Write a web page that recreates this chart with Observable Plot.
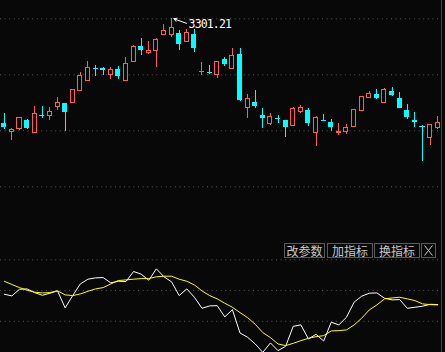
<!DOCTYPE html>
<html><head><meta charset="utf-8">
<script src="https://cdn.jsdelivr.net/npm/d3@7"></script>
<script src="https://cdn.jsdelivr.net/npm/@observablehq/plot@0.6"></script>
<style>
html,body{margin:0;padding:0;background:#080808;overflow:hidden}
#wrap{position:relative;width:445px;height:352px;background:#080808;overflow:hidden}
#top{position:absolute;left:0;top:0}
#bot{position:absolute;left:0;top:240px}
.btn{position:absolute;top:243px;height:13px;border:1px solid #5a5a5a;color:#c8c8c8;font-family:"Noto Sans CJK SC";font-size:12px;line-height:13px;text-align:center;background:#080808;white-space:nowrap}
#top text{letter-spacing:-0.85px}
</style></head><body>
<div id="wrap"><div id="top"></div><div id="bot"></div></div>
<script>
// ---- data ----
const open = [
 3091.8, 3075.2, 3080.4, 3098.4, 3073.8, 3107.8, 3107.2, 3125.2, 3131.2, 3133.2,
 3157.2, 3177.2, 3202.0, 3201.8, 3189.2, 3199.2, 3177.2, 3215.2, 3245.2, 3233.2,
 3237.2, 3269.2, 3269.2, 3271.2, 3255.2, 3269.2, 3194.6, 3194.0, 3189.2, 3219.2,
 3201.2, 3229.2, 3123.2, 3133.2, 3107.2, 3091.2, 3102.0, 3097.2, 3087.2, 3115.2,
 3117.2, 3073.2, 3098.0, 3093.2, 3073.2, 3075.2, 3085.2, 3117.2, 3143.2, 3149.2,
 3133.2, 3155.2, 3141.2, 3117.2, 3098.8, 3085.2, 3063.2, 3083.2];
const close = [
 3084.4, 3079.8, 3103.2, 3081.8, 3111.2, 3105.8, 3115.2, 3133.2, 3113.2, 3159.2,
 3187.2, 3203.2, 3200.0, 3198.4, 3199.2, 3185.2, 3211.2, 3245.2, 3238.4, 3237.2,
 3259.2, 3277.2, 3283.2, 3249.2, 3273.2, 3241.2, 3195.8, 3192.0, 3215.2, 3209.2,
 3227.2, 3138.4, 3141.2, 3125.2, 3101.2, 3105.2, 3100.0, 3083.2, 3121.2, 3123.2,
 3091.2, 3103.2, 3096.0, 3083.2, 3075.2, 3083.2, 3119.2, 3145.2, 3151.2, 3141.2,
 3159.2, 3148.2, 3121.2, 3103.2, 3094.8, 3083.2, 3089.2, 3093.2];
const high = [
 3111.2, 3081.2, 3103.2, 3100.4, 3125.8, 3125.8, 3123.2, 3143.2, 3131.2, 3159.2,
 3193.2, 3215.8, 3207.2, 3203.8, 3203.2, 3205.2, 3223.2, 3247.2, 3261.2, 3255.2,
 3261.8, 3289.2, 3301.21, 3277.2, 3279.2, 3279.2, 3213.2, 3207.2, 3215.2, 3223.2,
 3241.2, 3241.2, 3149.2, 3157.2, 3121.2, 3111.2, 3107.2, 3097.2, 3123.2, 3127.2,
 3121.2, 3105.2, 3109.2, 3099.2, 3091.2, 3089.2, 3119.2, 3145.2, 3155.2, 3159.2,
 3161.2, 3163.2, 3153.2, 3129.2, 3113.2, 3087.2, 3089.2, 3105.2];
const low = [
 3079.8, 3058.4, 3077.2, 3079.2, 3071.8, 3102.4, 3098.4, 3118.4, 3076.4, 3133.2,
 3155.2, 3177.2, 3186.8, 3187.2, 3179.2, 3179.2, 3177.2, 3215.2, 3227.2, 3229.2,
 3203.2, 3268.4, 3263.2, 3237.2, 3255.2, 3233.2, 3187.2, 3189.2, 3181.2, 3205.2,
 3201.2, 3136.4, 3101.2, 3121.2, 3081.2, 3087.2, 3091.2, 3063.2, 3087.2, 3111.2,
 3085.2, 3045.2, 3095.2, 3075.2, 3067.2, 3069.2, 3085.2, 3115.2, 3141.2, 3139.2,
 3133.2, 3145.2, 3121.2, 3099.2, 3083.2, 3016.8, 3048.8, 3079.2];
const whiteLine = [
 46.4, 44.8, 51.3, 51.6, 48.0, 45.4, 47.4, 49.7, 33.1, 45.1,
 56.5, 61.1, 62.4, 62.7, 57.5, 59.1, 58.8, 68.6, 66.0, 60.1,
 71.2, 63.4, 58.5, 45.1, 51.6, 43.5, 32.7, 35.0, 35.3, 24.3,
 31.4, 8.6, 4.4, -2.1, -10.3, -1.1, -8.6, -4.4, 15.1, 16.5,
 2.8, 7.3, 0.8, 19.1, 16.5, 23.9, 38.6, 44.5, 47.4, 47.7,
 42.5, 40.9, 41.2, 32.7, 33.7, 34.7, 36.6, 36.3];
const yellowLine = [
 59.1, 55.9, 52.9, 50.3, 48.4, 47.7, 48.0, 49.7, 45.8, 45.1,
 46.7, 49.3, 51.6, 52.9, 56.5, 59.8, 60.4, 61.1, 61.7, 61.7,
 63.4, 64.0, 64.0, 61.1, 59.1, 55.5, 49.7, 45.1, 41.9, 37.6,
 33.7, 28.5, 23.6, 17.1, 9.0, 4.1, -2.1, -3.7, -1.5, 1.1,
 3.4, 5.0, 6.0, 10.6, 10.9, 11.6, 16.4, 23.0, 31.1, 36.0,
 41.9, 42.8, 43.5, 41.9, 40.2, 37.0, 36.3, 36.0];
const priceGrid = [3301.21, 3189.21, 3077.21, 2965.21];
const oscGrid = [80, 50, 20];
const buttonLabels = ["改参数", "加指标", "换指标"];

// ---- chart ----
const RED = "#ff5b5b", CYAN = "#00ffff", BG = "#080808", GRID = "#5a5a5a";
const n = open.length;
const candles = open.map((o, i) => ({i, open: o, close: close[i], high: high[i], low: low[i], up: close[i] >= o}));
const ups = candles.filter(d => d.up), downs = candles.filter(d => !d.up);
const xDomain = [-0.5, n - 0.5];
const hiVal = d3.max(high), hiIdx = high.indexOf(hiVal);

const topChart = Plot.plot({
  width: 445, height: 240,
  marginTop: 0, marginBottom: 0, marginLeft: 0, marginRight: 4,
  x: {domain: xDomain, axis: null},
  y: {domain: [2857.8, 3337.8], axis: null},
  style: {background: BG},
  marks: [
    Plot.ruleY(priceGrid, {stroke: GRID, strokeDasharray: "1,3.6"}),
    Plot.ruleX(downs, {x: "i", y1: "low", y2: "high", stroke: CYAN, shapeRendering: "crispEdges"}),
    Plot.ruleX(ups, {x: "i", y1: "low", y2: "high", stroke: RED, shapeRendering: "crispEdges"}),
    Plot.rect(downs, {x1: d => d.i - 0.33, x2: d => d.i + 0.33, y1: "open", y2: "close", fill: CYAN, shapeRendering: "crispEdges"}),
    Plot.rect(ups, {x1: d => d.i - 0.265, x2: d => d.i + 0.265, y1: "open", y2: "close", fill: BG, stroke: RED, shapeRendering: "crispEdges"}),
    Plot.ruleX([xDomain[1]], {stroke: "#444"}),
    Plot.arrow([hiVal], {x1: hiIdx + 1.95, y1: d => d - 9, x2: hiIdx + 0.3, y2: d => d, stroke: "#fff", strokeWidth: 1, headLength: 5}),
    Plot.text([hiVal], {x: hiIdx, y: d => d, text: d => d.toFixed(2), dx: 17, dy: 5.7, textAnchor: "start", fill: "#fff", fontSize: 11.5, fontFamily: "DejaVu Sans Mono"})
  ]
});
document.getElementById("top").appendChild(topChart);

const botChart = Plot.plot({
  width: 445, height: 112,
  marginTop: 0, marginBottom: 0, marginLeft: 0, marginRight: 4,
  x: {domain: xDomain, axis: null},
  y: {domain: [-10.45, 98.86], axis: null},
  style: {background: BG},
  marks: [
    Plot.ruleY(oscGrid, {stroke: GRID, strokeDasharray: "1,3.6"}),
    Plot.lineY(whiteLine, {x: (d, i) => i, y: d => d, stroke: "#ffffff", strokeWidth: 1}),
    Plot.lineY(yellowLine, {x: (d, i) => i, y: d => d, stroke: "#ffff00", strokeWidth: 1}),
    Plot.ruleX([xDomain[1]], {stroke: "#444"})
  ]
});
document.getElementById("bot").appendChild(botChart);

// ---- indicator buttons ----
const wrap = document.getElementById("wrap");
const btnLeft = [284, 327, 374], btnWidth = [39, 44, 44];
buttonLabels.forEach((t, k) => {
  const b = document.createElement("div");
  b.className = "btn";
  b.textContent = t;
  b.style.left = btnLeft[k] + "px";
  b.style.width = btnWidth[k] + "px";
  wrap.appendChild(b);
});
const xb = document.createElement("div");
xb.className = "btn";
xb.style.left = "421px"; xb.style.width = "13px";
xb.innerHTML = '<svg width="13" height="13" style="display:block"><path d="M2.5 1.5 L10.5 11.5 M10.5 1.5 L2.5 11.5" stroke="#c8c8c8" stroke-width="1" fill="none"/></svg>';
wrap.appendChild(xb);
</script>
</body></html>
